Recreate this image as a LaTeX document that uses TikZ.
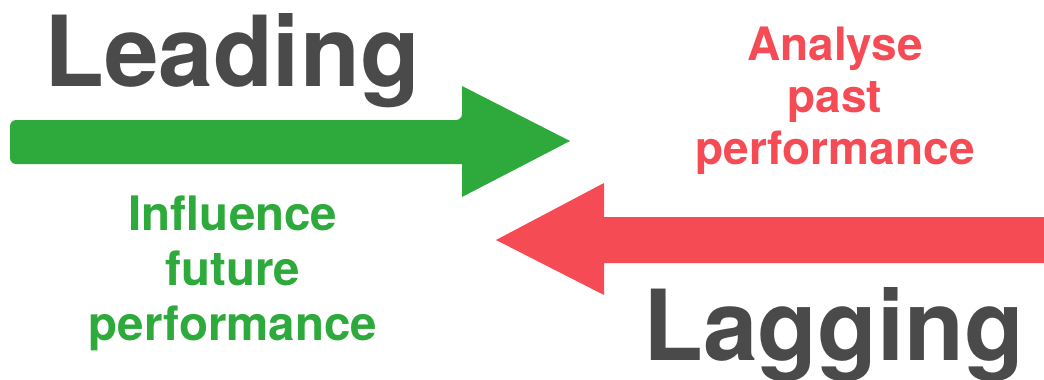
\documentclass[tikz,border=0pt]{standalone}
\usepackage{fontspec}
\setmainfont{TeX Gyre Heros}
\definecolor{agreen}{HTML}{2DAA3B}
\definecolor{ared}{HTML}{F54B55}
\definecolor{agray}{HTML}{4A4A4A}
\begin{document}
\begin{tikzpicture}[x=1pt,y=-1pt,
  big/.style={font=\fontsize{98}{98}\selectfont\bfseries, text=agray, inner sep=0pt, anchor=base west},
  small/.style={font=\fontsize{46}{52}\selectfont\bfseries, inner sep=0pt, anchor=base},
  gtext/.style={small, font=\fontsize{47.5}{52}\selectfont\bfseries, text=agreen},
  rtext/.style={small, text=ared}]
\useasboundingbox (0,0) rectangle (1044,380);
% green arrow
\fill[agreen, rounded corners=6pt] (10,164) -- (10,120) -- (462,120) [sharp corners] -- (462,86) -- (570,141) -- (462,197) -- (462,164) [rounded corners=6pt] -- cycle;
% red arrow
\fill[ared] (1044,217) -- (604,217) -- (604,183) -- (496,240) -- (604,295) -- (604,263) -- (1044,263) -- cycle;
\node[big] (leading) at (44,86) {Leading};
\node[big] (lagging) at (643,360) {Lagging};
\node[gtext] (g1) at (233,230) {Influence};
\node[gtext] (g2) at (233,285) {future};
\node[gtext] (g3) at (233,340) {performance};
\node[rtext] (r1) at (835,60) {Analyse};
\node[rtext] (r2) at (835,112) {past};
\node[rtext] (r3) at (835,164) {performance};
\end{tikzpicture}
\end{document}
